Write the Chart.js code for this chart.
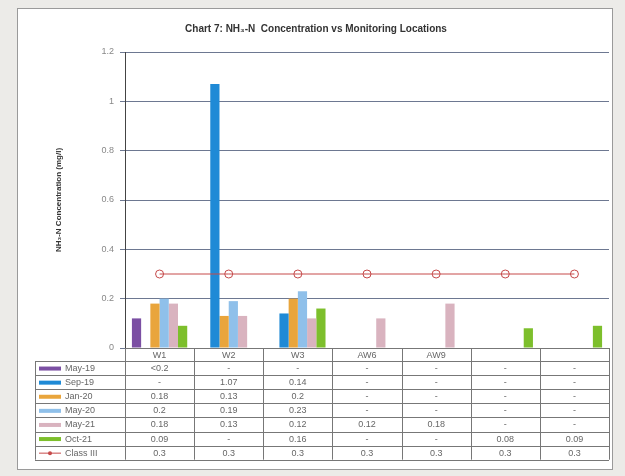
<!DOCTYPE html>
<html>
<head>
<meta charset="utf-8">
<script src="https://cdn.jsdelivr.net/npm/chart.js@4.4.0/dist/chart.umd.min.js"></script>
<style>
  html, body { margin: 0; padding: 0; background: #ecebe8; }
  #wrap { width: 625px; height: 476px; }
</style>
</head>
<body>
<div id="wrap"><canvas id="nh3Chart" width="625" height="476"></canvas></div>
<script>
// Vị trí quan trắc (2 cột cuối không có tên)
const locations = ['W1', 'W2', 'W3', 'AW6', 'AW9', '', ''];

// NH3-N (mg/l) theo từng đợt
const may19 = [0.12, null, null, null, null, null, null];
const sep19 = [null, 1.07, 0.14, null, null, null, null];
const jan20 = [0.18, 0.13, 0.2, null, null, null, null];
const may20 = [0.2, 0.19, 0.23, null, null, null, null];
const may21 = [0.18, 0.13, 0.12, 0.12, 0.18, null, null];
const oct21 = [0.09, null, 0.16, null, null, 0.08, 0.09];
const classIII = [0.3, 0.3, 0.3, 0.3, 0.3, 0.3, 0.3];

// chữ hiển thị khác với giá trị cột
const tableOverrides = { 'May-19': { 0: '<0.2' } };

const yTicks = [0, 0.2, 0.4, 0.6, 0.8, 1, 1.2];

const FONT = '"Liberation Sans", Arial, sans-serif';

function cellText(label, values, i) {
  const ov = tableOverrides[label];
  if (ov && ov[i] !== undefined) return ov[i];
  const v = values[i];
  return v === null || v === undefined ? '-' : String(v);
}

// vẽ nền, tiêu đề và bảng dữ liệu bên dưới
const tablePlugin = {
  id: 'dataTable',
  beforeDraw(chart) {
    const ctx = chart.ctx;
    ctx.save();
    ctx.fillStyle = '#ecebe8';
    ctx.fillRect(0, 0, chart.width, chart.height);
    ctx.fillStyle = '#ffffff';
    ctx.fillRect(17, 8, 596, 462);
    ctx.strokeStyle = '#9a9a9a';
    ctx.lineWidth = 1;
    ctx.strokeRect(17.5, 8.5, 595, 461);
    ctx.restore();
  },
  afterDraw(chart) {
    const ctx = chart.ctx;
    const x = chart.scales.x;
    const area = chart.chartArea;
    const n = locations.length;
    const colW = (x.right - x.left) / n;
    const top = area.bottom;
    const headH = 13;
    const rowH = 14.1;
    const legendLeft = 35;
    const ds = chart.data.datasets;
    const bottom = top + headH + rowH * ds.length;

    ctx.save();
    // tiêu đề
    ctx.fillStyle = '#333';
    ctx.font = 'bold 10px ' + FONT;
    ctx.textAlign = 'center';
    ctx.textBaseline = 'middle';
    ctx.fillText('Chart 7: NH\u2083-N  Concentration vs Monitoring Locations', 316, 29);

    ctx.strokeStyle = '#777';
    ctx.lineWidth = 1;
    // đường ngang
    ctx.beginPath();
    ctx.moveTo(x.left, top + 0.5);
    ctx.lineTo(x.right, top + 0.5);
    for (let r = 0; r <= ds.length; r++) {
      const yy = Math.round(top + headH + r * rowH) + 0.5;
      ctx.moveTo(legendLeft, yy);
      ctx.lineTo(x.right, yy);
    }
    // đường dọc
    for (let c = 0; c <= n; c++) {
      const xx = Math.round(x.left + c * colW) + 0.5;
      ctx.moveTo(xx, top);
      ctx.lineTo(xx, bottom);
    }
    ctx.moveTo(legendLeft + 0.5, top + headH);
    ctx.lineTo(legendLeft + 0.5, bottom);
    ctx.stroke();

    ctx.font = '9px ' + FONT;
    ctx.fillStyle = '#666';
    // hàng tên vị trí
    locations.forEach((loc, i) => {
      ctx.fillText(loc, x.getPixelForValue(i), top + headH / 2 + 1);
    });

    ds.forEach((d, r) => {
      const cy = top + headH + r * rowH + rowH / 2 + 0.5;
      // ô chú giải
      ctx.save();
      if (d.type === 'line') {
        ctx.strokeStyle = d.borderColor;
        ctx.lineWidth = 1;
        ctx.beginPath();
        ctx.moveTo(39, cy);
        ctx.lineTo(61, cy);
        ctx.stroke();
        ctx.fillStyle = d.borderColor;
        ctx.beginPath();
        ctx.arc(50, cy, 2, 0, Math.PI * 2);
        ctx.fill();
      } else {
        ctx.fillStyle = d.backgroundColor;
        ctx.fillRect(39, cy - 2, 22, 4);
      }
      ctx.restore();
      ctx.textAlign = 'left';
      ctx.fillStyle = '#666';
      ctx.fillText(d.label, 65, cy);
      ctx.textAlign = 'center';
      for (let i = 0; i < n; i++) {
        ctx.fillText(cellText(d.label, d.data, i), x.getPixelForValue(i), cy);
      }
    });
    ctx.restore();
  }
};

const ctx = document.getElementById('nh3Chart').getContext('2d');

function barSet(label, data, color) {
  return {
    type: 'bar', label, data,
    backgroundColor: color, borderWidth: 0,
    barPercentage: 1.0, categoryPercentage: 0.8, order: 1
  };
}

new Chart(ctx, {
  type: 'bar',
  data: {
    labels: locations,
    datasets: [
      barSet('May-19', may19, '#7b4fa3'),
      barSet('Sep-19', sep19, '#1f8ad6'),
      barSet('Jan-20', jan20, '#e9a53c'),
      barSet('May-20', may20, '#8fc0ea'),
      barSet('May-21', may21, '#d9b3bf'),
      barSet('Oct-21', oct21, '#7dbf2c'),
      {
        type: 'line', label: 'Class III', data: classIII,
        borderColor: '#c64b4b', borderWidth: 1,
        pointStyle: 'circle', pointRadius: 4,
        pointBackgroundColor: 'rgba(255,255,255,0)',
        pointBorderColor: '#c64b4b', pointBorderWidth: 1,
        fill: false, order: 0
      }
    ]
  },
  options: {
    responsive: false,
    animation: false,
    devicePixelRatio: 1,
    layout: { padding: { left: 52, right: 16, top: 52, bottom: 128 } },
    plugins: {
      legend: { display: false },
      title: { display: false },
      tooltip: { enabled: false }
    },
    scales: {
      x: {
        ticks: { display: false },
        grid: { display: false, drawTicks: false },
        border: { display: false },
        afterFit(scale) { scale.height = 0; }
      },
      y: {
        min: 0, max: 1.2,
        afterBuildTicks(scale) { scale.ticks = yTicks.map(v => ({ value: v })); },
        afterFit(scale) { scale.width = 73; },
        ticks: {
          color: '#888',
          font: { size: 9, family: FONT },
          padding: 6,
          callback: v => String(v)
        },
        grid: { color: '#6d7891', lineWidth: 1, tickLength: 5 },
        border: { display: true, color: '#444' },
        title: {
          display: true,
          text: 'NH\u2083-N Concentration (mg/l)',
          color: '#333',
          font: { size: 8, weight: 'bold', family: FONT },
          padding: { top: 2, bottom: 2 }
        }
      }
    }
  },
  plugins: [tablePlugin]
});
</script>
</body>
</html>
